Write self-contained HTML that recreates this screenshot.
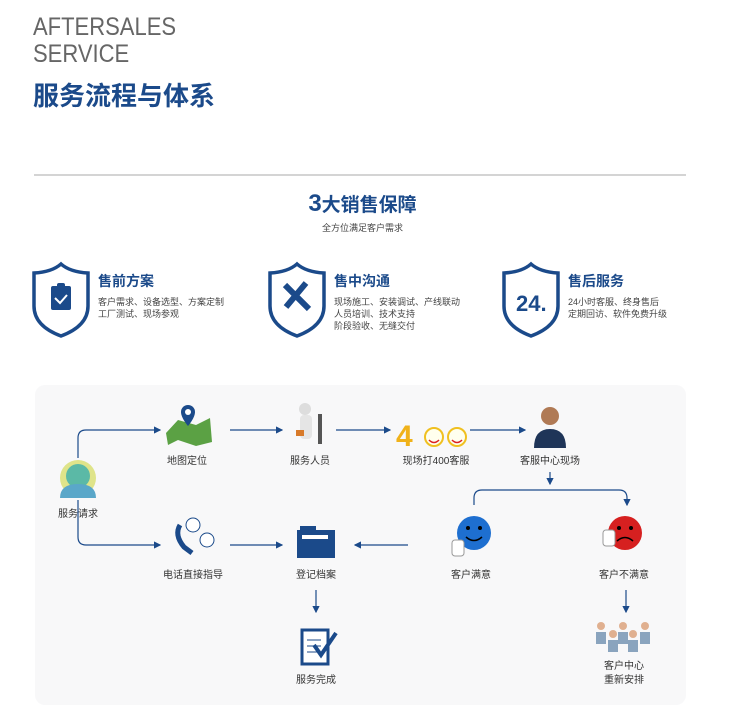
<!DOCTYPE html>
<html><head><meta charset="utf-8"><style>
body{margin:0;width:750px;height:714px;background:#fff;position:relative;overflow:hidden;font-family:"Liberation Sans","Noto Sans CJK SC",sans-serif}
.a{position:absolute;white-space:nowrap}
.lbl{position:absolute;font-size:10px;color:#333;transform:translateX(-50%);white-space:nowrap;text-align:center;line-height:14px}
.t{font-size:14px;color:#1b4a8a;font-weight:bold}
.d{font-size:9px;color:#444;line-height:12px}
</style></head><body>
<div class="a" style="left:33px;top:14px;font-size:25px;color:#666;line-height:27px;transform:scaleX(0.88);transform-origin:0 0">AFTERSALES<br>SERVICE</div>
<div class="a" style="left:33px;top:76px;font-size:26px;color:#1b4a8a;font-weight:bold">服务流程与体系</div>
<div class="a" style="left:34px;top:174px;width:652px;height:2px;background:#d4d4d4"></div>
<div class="a" style="left:0;width:750px;text-align:center;top:190px;font-size:19px;color:#1b4a8a;font-weight:bold;padding-left:0"><span style="display:inline-block;margin-left:-25px"><span style="font-size:24px">3</span>大销售保障</span></div>
<div class="a" style="left:0;width:750px;text-align:center;top:221px;font-size:9px;color:#444"><span style="margin-left:-25px">全方位满足客户需求</span></div>
<svg class="a" style="left:0;top:0" width="750" height="714">
<defs><path id="sh" d="M27 0 Q36 8 54 9 L54 42 Q54 62 27 72 Q0 62 0 42 L0 9 Q18 8 27 0Z" fill="none" stroke="#1b4a8a" stroke-width="3.5"/>
<marker id="ar" markerWidth="6" markerHeight="6" refX="5" refY="3" orient="auto"><path d="M0 0L6 3L0 6z" fill="#1b4a8a"/></marker></defs>
<use href="#sh" x="34" y="264"/><use href="#sh" x="270" y="264"/><use href="#sh" x="504" y="264"/>
<rect x="51" y="286" width="20" height="24" rx="2" fill="#1b4a8a"/><rect x="57" y="283" width="8" height="5" rx="2" fill="#1b4a8a"/>
<path d="M55 298l5 5 7-8" stroke="#fff" stroke-width="2" fill="none"/>
<path d="M285 285l24 24M306 283l-20 24" stroke="#1b4a8a" stroke-width="6"/>
<text x="516" y="311" font-size="22" font-weight="bold" fill="#1b4a8a" font-family="Liberation Sans">24.</text>
<rect x="35" y="385" width="651" height="320" rx="10" fill="#f8f8f9"/>
<g stroke="#1b4a8a" stroke-width="1.2" fill="none" marker-end="url(#ar)">
<path d="M78 458V438Q78 430 86 430H160"/><path d="M230 430H282"/><path d="M336 430H390"/><path d="M470 430H525"/>
<path d="M78 500V537Q78 545 86 545H160"/><path d="M230 545H282"/><path d="M408 545H355"/>
<path d="M550 472V484"/><path d="M474 505V498Q474 490 482 490H619Q627 490 627 498V505"/>
<path d="M316 590V612"/><path d="M626 590V612"/>
</g>
<circle cx="78" cy="478" r="18" fill="#dfe48a"/><circle cx="78" cy="476" r="12" fill="#5bb9a6"/><path d="M60 498Q60 484 78 484Q96 484 96 498z" fill="#5aa7c9"/>
<path d="M166 433L178 420L196 425L210 418L212 442L196 446L178 440L168 445z" fill="#5ba144"/><path d="M188 405a7 7 0 0 1 7 7c0 6-7 14-7 14s-7-8-7-14a7 7 0 0 1 7-7z" fill="#1b4a8a"/><circle cx="188" cy="412" r="3" fill="#fff"/>
<circle cx="305" cy="409" r="6" fill="#ddd"/><rect x="300" y="415" width="12" height="24" rx="4" fill="#e5e5e5"/><rect x="318" y="414" width="4" height="30" fill="#555"/><rect x="296" y="430" width="8" height="6" fill="#d87a2a"/>
<text x="396" y="446" font-size="30" font-weight="bold" fill="#f0b21a" font-family="Liberation Sans">4</text><circle cx="434" cy="437" r="9" fill="#ffe" stroke="#f0c020" stroke-width="2"/><circle cx="457" cy="437" r="9" fill="#ffe" stroke="#f0c020" stroke-width="2"/><path d="M429 440q5 5 10 0M452 440q5 5 10 0" stroke="#d22" stroke-width="1.5" fill="none"/>
<circle cx="550" cy="416" r="9" fill="#b07a55"/><path d="M534 448Q534 429 550 429Q566 429 566 448z" fill="#1f3558"/>
<circle cx="474" cy="533" r="17" fill="#1e6fd0"/><circle cx="468" cy="528" r="2" fill="#000"/><circle cx="480" cy="528" r="2" fill="#000"/><path d="M466 537q8 7 16 0" stroke="#000" stroke-width="1.5" fill="none"/><rect x="452" y="540" width="12" height="16" rx="3" fill="#fff" stroke="#999"/>
<circle cx="625" cy="533" r="17" fill="#d62020"/><circle cx="619" cy="528" r="2" fill="#000"/><circle cx="631" cy="528" r="2" fill="#000"/><path d="M617 541q8 -7 16 0" stroke="#000" stroke-width="1.5" fill="none"/><rect x="603" y="530" width="12" height="16" rx="3" fill="#fff" stroke="#999"/>
<path d="M180 525q-6 10 4 22l8 6" stroke="#1b4a8a" stroke-width="5" fill="none"/><circle cx="193" cy="525" r="7" fill="#fff" stroke="#1b4a8a"/><circle cx="207" cy="540" r="7" fill="#fff" stroke="#1b4a8a"/>
<rect x="297" y="530" width="38" height="28" fill="#1b4a8a"/><rect x="300" y="526" width="16" height="6" fill="#1b4a8a"/><rect x="302" y="535" width="26" height="4" fill="#fff"/>
<rect x="302" y="630" width="26" height="34" fill="#fff" stroke="#1b4a8a" stroke-width="3"/><path d="M307 640h14M307 646h14M307 652h10" stroke="#1b4a8a"/><path d="M314 645l7 10 15-22" stroke="#1b4a8a" stroke-width="4" fill="none"/>
<g fill="#8aa4be"><rect x="596" y="632" width="10" height="12"/><rect x="608" y="640" width="10" height="12"/><rect x="618" y="632" width="10" height="12"/><rect x="628" y="640" width="10" height="12"/><rect x="640" y="632" width="10" height="12"/></g>
<g fill="#e0b090"><circle cx="601" cy="626" r="4"/><circle cx="613" cy="634" r="4"/><circle cx="623" cy="626" r="4"/><circle cx="633" cy="634" r="4"/><circle cx="645" cy="626" r="4"/></g>
</svg>
<div class="a t" style="left:98px;top:271px">售前方案</div>
<div class="a d" style="left:98px;top:296px">客户需求、设备选型、方案定制<br>工厂测试、现场参观</div>
<div class="a t" style="left:334px;top:271px">售中沟通</div>
<div class="a d" style="left:334px;top:296px">现场施工、安装调试、产线联动<br>人员培训、技术支持<br>阶段验收、无缝交付</div>
<div class="a t" style="left:568px;top:271px">售后服务</div>
<div class="a d" style="left:568px;top:296px">24小时客服、终身售后<br>定期回访、软件免费升级</div>
<div class="lbl" style="left:78px;top:508px">服务请求</div>
<div class="lbl" style="left:187px;top:455px">地图定位</div>
<div class="lbl" style="left:310px;top:455px">服务人员</div>
<div class="lbl" style="left:436px;top:455px">现场打400客服</div>
<div class="lbl" style="left:550px;top:455px">客服中心现场</div>
<div class="lbl" style="left:193px;top:569px">电话直接指导</div>
<div class="lbl" style="left:316px;top:569px">登记档案</div>
<div class="lbl" style="left:471px;top:569px">客户满意</div>
<div class="lbl" style="left:624px;top:569px">客户不满意</div>
<div class="lbl" style="left:316px;top:674px">服务完成</div>
<div class="lbl" style="left:624px;top:660px">客户中心<br>重新安排</div>
</body></html>
